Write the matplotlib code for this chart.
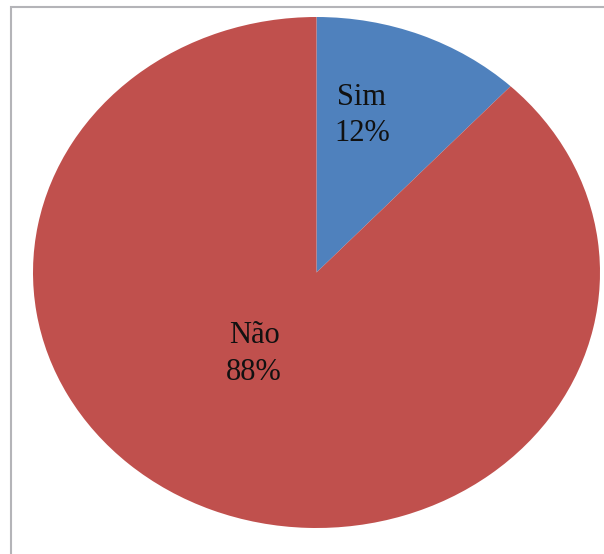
import matplotlib
matplotlib.use("Agg")
import matplotlib.pyplot as plt
from matplotlib.patches import Rectangle

# dados
labels = ["Sim", "Não"]
values = [12, 88]
colors = ["#4F81BD", "#C0504D"]

W, H = 604, 554
fig = plt.figure(figsize=(W / 100, H / 100), dpi=100)
fig.patch.set_facecolor("white")

# moldura cinza (só esquerda e topo aparecem)
fig.add_artist(Rectangle((11 / W, -0.1), 1.2, 1.1 - 7 / H, transform=fig.transFigure,
                         fill=False, edgecolor="#B4B4B8", linewidth=1.5))

# pizza achatada (elipse) como no Excel
ax = fig.add_axes([33 / W, 26 / H, 567 / W, 511 / H])
ax.pie(values, colors=colors, startangle=90, counterclock=False,
       wedgeprops=dict(linewidth=0))
ax.set_aspect("auto")
ax.set_xlim(-1, 1)
ax.set_ylim(-1, 1)
ax.axis("off")

total = sum(values)
# posição dos rótulos (fração do raio)
label_pos = [(0.16, 0.615), (-0.22, -0.32)]
for lab, v, (x, y) in zip(labels, values, label_pos):
    ax.text(x, y, lab + "\n" + f"{v / total * 100:.0f}%", ha="center", va="center",
            fontsize=22, family="Liberation Serif", color="#111111", linespacing=1.35)

fig.savefig("out.png", dpi=100)
